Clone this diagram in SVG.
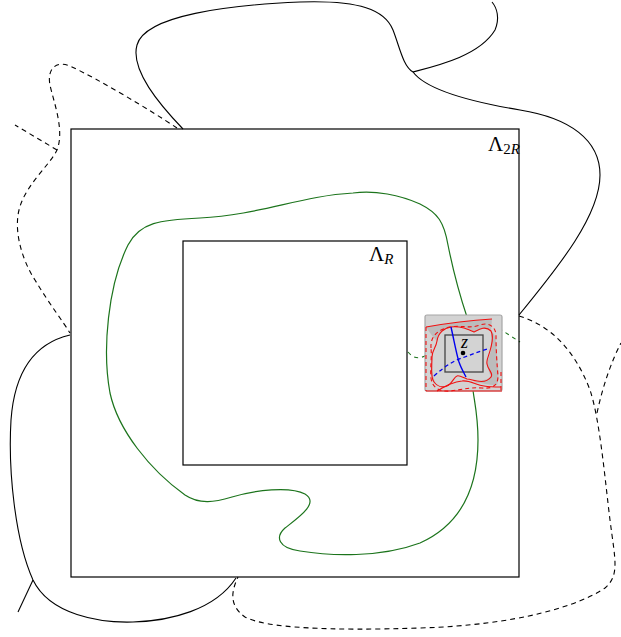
<svg xmlns="http://www.w3.org/2000/svg" width="621" height="637" viewBox="0 0 621 637">
<style>
.k{fill:none;stroke:#000;stroke-width:1.1}
.kd{fill:none;stroke:#000;stroke-width:1.1;stroke-dasharray:5,4}
.g{fill:none;stroke:#1c741c;stroke-width:1.2}
.gd{fill:none;stroke:#1c741c;stroke-width:1.1;stroke-dasharray:4,4}
.r{fill:none;stroke:#f01010;stroke-width:1.1}
.rd{fill:none;stroke:#f01010;stroke-width:1.1;stroke-dasharray:4,3}
.sq{fill:none;stroke:#000;stroke-width:1.2}
.lab{font-family:"Liberation Serif","DejaVu Serif",serif;fill:#000}
</style>
<g id="curves">
<path class="k" d="M183,129 C160,105 130,70 137,45 C145,15 230,5 300,2 C360,0 385,10 393,30 C400,48 403,66 413,72 C425,88 460,100 520,110 C570,118 600,140 600,175 C600,215 560,265 519,315"/>
<path class="k" d="M413,72 C440,65 480,55 495,30 C500,18 497,8 492,2"/>
<path class="kd" d="M519,316 C550,325 575,350 590,390 C600,420 605,480 610,520 C615,560 620,575 605,588 C580,605 520,625 420,628 C330,631 265,628 245,617 C228,605 232,590 238,577"/>
<path class="kd" d="M597,413 C603,385 612,360 621,343"/>
<path class="k" d="M70,335 C40,342 15,365 11,420 C8,470 15,540 33,580 C50,615 100,623 133,622 C170,621 215,610 236,578"/>
<path class="k" d="M33,580 L18,612"/>
<path class="kd" d="M177,128 C150,110 100,80 70,66 C55,60 47,70 50,85 C53,100 65,130 57,150 C50,165 25,185 19,210 C13,235 25,265 35,280 C50,305 62,320 70,333"/>
<path class="kd" d="M57,150 L15,125"/>
<path class="g" d="M467,317 C458,290 452,265 448,245 C444,222 438,213 420,204 C400,195 375,190 353,193 C300,196 260,215 200,218 C160,220 140,222 128,245 C108,285 102,350 110,393 C118,430 150,470 185,495 C200,505 215,502 232,497 C255,490 290,486 305,494 C320,503 298,518 285,528 C275,537 278,548 300,551 C330,556 380,558 420,543 C460,525 478,490 478,440 C478,415 474,400 473,390"/>
<path class="gd" d="M408,352 C413,358 420,362 433,350"/>
<path class="gd" d="M492,324 L520,342"/>
</g>
<g id="lambda2R">
<rect class="sq" x="71" y="129" width="448" height="448"/>
<text class="lab" x="488" y="151" font-size="21">Λ<tspan font-size="15" dy="3">2</tspan><tspan font-size="15" font-style="italic">R</tspan></text>
</g>
<g id="lambdaR">
<rect class="sq" x="183" y="241" width="224" height="224"/>
<text class="lab" x="369" y="261" font-size="21">Λ<tspan font-size="15" dy="3" font-style="italic">R</tspan></text>
</g>
<g id="zbox">
<rect x="425" y="315" width="77" height="76" rx="2" fill="#d3d3d3" stroke="#a6a6a6" stroke-width="1.2"/>
<path d="M426,327 Q460,321 492,319 L491,331 C484,326 478,330 474,332 C465,326 458,326 451,327 C444,328 440,331 437,341 C432,336 428,330 426,327 Z" fill="#bcbcbc"/>
<path d="M491,331 C497,335 496,345 497,355 C498,367 500,378 497,385 C490,386 480,382 474,383 C480,380 488,380 491,377 C488,370 487,364 487,364 C489,356 492,350 491,347 Z" fill="#bcbcbc"/>
<path d="M432,357 C430,368 430,380 437,386 C433,380 432,370 432,357 Z" fill="#bcbcbc"/>
<path class="r" d="M426,327 Q460,321 492,319"/>
<path class="r" d="M437,341 C438,333 444,328 451,327 C460,326 466,328 474,332 C478,330 485,325 491,331 C494,337 492,343 491,347 C489,356 486,360 487,364 C488,370 494,374 491,377 C488,381 482,382 477,381 C472,380 470,379 467,379 C462,377 459,375 457,376 C454,377 452,384 447,386 C442,388 437,386 434,382 C430,377 432,367 432,357 C432,350 436,348 437,341 Z"/>
<path class="rd" d="M431,348 C430,335 440,329 450,327 C462,325 470,329 480,325 C488,322 496,326 496,336 C496,350 497,365 498,376 C498,386 492,389 482,388 C470,387 460,390 450,391 C440,392 432,388 431,378 C430,368 432,358 431,348 Z"/>
<path class="rd" d="M426,327 L426,391"/>
<path class="rd" d="M501,372 L501,391"/>
<path class="r" d="M437,391 C445,386 452,382 462,381 C470,380 476,385 484,386 C490,387 496,387 501,387"/>
<path class="r" d="M426,391 L502,391"/>
<rect x="445" y="335" width="38" height="37" fill="#d3d3d3" stroke="#444" stroke-width="1.3"/>
<path d="M451,327 C454,340 456,352 459,362 C461,368 464,373 466,377" fill="none" stroke="#0000ee" stroke-width="1.4"/>
<path d="M434,376 C445,366 455,360 462,358 C470,355 478,352 487,349" fill="none" stroke="#0000ee" stroke-width="1.3" stroke-dasharray="4,3"/>
<circle cx="463" cy="353" r="2.3" fill="#000"/>
<text class="lab" x="461" y="348" font-size="18" font-style="italic" fill="#444">z</text>
</g>
</svg>
